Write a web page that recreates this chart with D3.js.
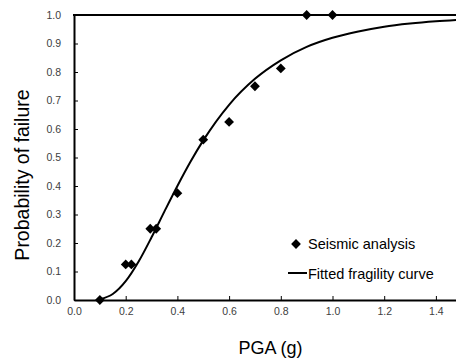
<!DOCTYPE html>
<html>
<head>
<meta charset="utf-8">
<script src="https://cdn.jsdelivr.net/npm/d3@7"></script>
<style>
  html, body { margin: 0; padding: 0; background: #fff; }
  svg { display: block; font-family: "Liberation Sans", Arial, sans-serif; }
</style>
</head>
<body>
<svg id="chart" width="456" height="359"></svg>
<script>
// Observed damage ratios from the seismic analysis runs
const pgaObserved = [0.1, 0.2, 0.222, 0.295, 0.318, 0.4, 0.5, 0.6, 0.7, 0.8, 0.9, 1.0];
const probObserved = [0.0, 0.125, 0.125, 0.25, 0.25, 0.375, 0.5625, 0.625, 0.75, 0.8125, 1.0, 1.0];

// Fitted lognormal fragility curve, sampled values
const pgaCurve = [0.1, 0.15, 0.2, 0.25, 0.3, 0.35, 0.4, 0.45, 0.5, 0.6, 0.7, 0.8, 0.9, 1.0, 1.1, 1.2, 1.3, 1.4, 1.5];
const probCurve = [0.003, 0.021, 0.066, 0.135, 0.220, 0.311, 0.400, 0.484, 0.560, 0.685, 0.776, 0.841, 0.888, 0.920, 0.942, 0.959, 0.970, 0.978, 0.984];

const xTicks = [0.0, 0.2, 0.4, 0.6, 0.8, 1.0, 1.2, 1.4];
const yTicks = [0.0, 0.1, 0.2, 0.3, 0.4, 0.5, 0.6, 0.7, 0.8, 0.9, 1.0];

const legendLabels = ["Seismic analysis", "Fitted fragility curve"];

const svg = d3.select("#chart");
const plotLeft = 74, plotTop = 15, plotBottom = 300;

const x = d3.scaleLinear().domain([0, 1.5]).range([plotLeft, plotLeft + 1.5 * 258.5]);
const y = d3.scaleLinear().domain([0, 1]).range([plotBottom, plotTop]);

const tickColor = "#404040";

// Left axis
const yAxis = svg.append("g")
  .attr("transform", `translate(${plotLeft},0)`)
  .call(d3.axisLeft(y).tickValues(yTicks).tickFormat(d3.format(".1f")).tickSizeInner(-4).tickSizeOuter(0).tickPadding(13));
yAxis.select(".domain").attr("stroke", "#000").attr("stroke-width", 2);
yAxis.selectAll(".tick line").attr("stroke", "#000");
yAxis.selectAll(".tick text").attr("fill", tickColor).attr("font-size", 10.5).attr("font-family", "Liberation Sans, Arial, sans-serif");

// Bottom axis
const xAxis = svg.append("g")
  .attr("transform", `translate(0,${plotBottom})`)
  .call(d3.axisBottom(x).tickValues(xTicks).tickFormat(d3.format(".1f")).tickSizeInner(-4).tickSizeOuter(0).tickPadding(8));
xAxis.select(".domain").attr("stroke", "#000").attr("stroke-width", 2);
xAxis.selectAll(".tick line").attr("stroke", "#000");
xAxis.selectAll(".tick text").attr("fill", tickColor).attr("font-size", 10.5).attr("font-family", "Liberation Sans, Arial, sans-serif");

// Top frame line
svg.append("line")
  .attr("x1", plotLeft - 1).attr("x2", x(1.5))
  .attr("y1", y(1)).attr("y2", y(1))
  .attr("stroke", "#000").attr("stroke-width", 2);

// Fitted curve
const line = d3.line().x((d, i) => x(pgaCurve[i])).y(d => y(d)).curve(d3.curveMonotoneX);
svg.append("path")
  .datum(probCurve)
  .attr("d", line)
  .attr("fill", "none")
  .attr("stroke", "#000")
  .attr("stroke-width", 2);

// Observed points as diamonds
const diamond = d3.symbol().type(d3.symbolSquare).size(48);
svg.append("g").selectAll("path")
  .data(probObserved)
  .join("path")
  .attr("d", diamond)
  .attr("transform", (d, i) => `translate(${x(pgaObserved[i])},${y(d)}) rotate(45)`)
  .attr("fill", "#000");

// Legend
const lg = svg.append("g").attr("font-size", 14.5).attr("fill", "#000");
lg.append("path").attr("d", diamond).attr("transform", "translate(296,244) rotate(45)").attr("fill", "#000");
lg.append("text").attr("x", 308).attr("y", 249).text(legendLabels[0]);
lg.append("line").attr("x1", 288).attr("x2", 307).attr("y1", 273).attr("y2", 273).attr("stroke", "#000").attr("stroke-width", 2);
lg.append("text").attr("x", 308).attr("y", 279).text(legendLabels[1]);

// Axis titles
svg.append("text")
  .attr("x", 270.5).attr("y", 354)
  .attr("text-anchor", "middle")
  .attr("font-size", 18)
  .attr("fill", "#000")
  .text("PGA (g)");

svg.append("text")
  .attr("transform", "translate(29,175) rotate(-90)")
  .attr("text-anchor", "middle")
  .attr("font-size", 19.5)
  .attr("fill", "#000")
  .text("Probability of failure");
</script>
</body>
</html>
